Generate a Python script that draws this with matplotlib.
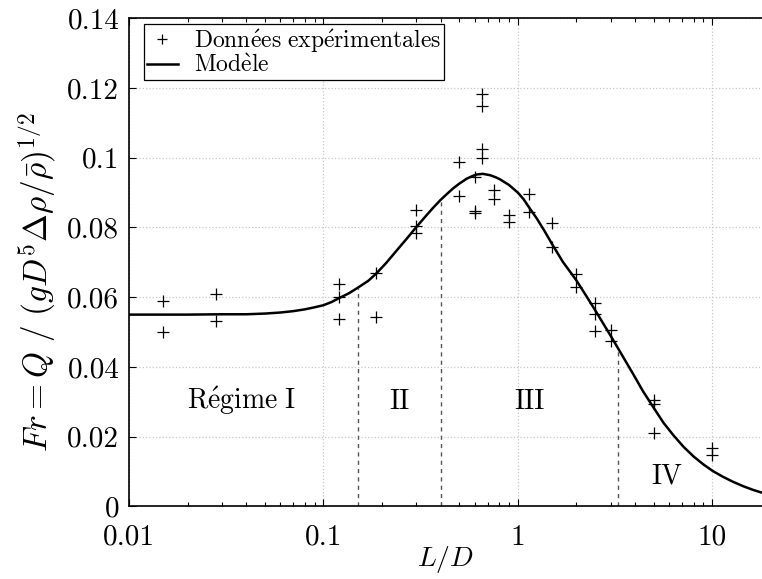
import matplotlib
matplotlib.use("Agg")
import matplotlib.pyplot as plt
from matplotlib.ticker import FixedLocator, FixedFormatter, LogLocator, NullFormatter

plt.rcParams["font.family"] = "serif"
plt.rcParams["font.serif"] = ["cmr10"]
plt.rcParams["mathtext.fontset"] = "cm"
plt.rcParams["axes.formatter.use_mathtext"] = True

# experimental points (L/D, Fr)
exp_x = [0.015, 0.015, 0.028, 0.028, 0.12, 0.12, 0.12, 0.186, 0.186,
         0.3, 0.3, 0.3, 0.5, 0.5, 0.6, 0.6, 0.6,
         0.655, 0.655, 0.655, 0.655, 0.75, 0.75, 0.9, 0.9,
         1.14, 1.14, 1.5, 1.5, 2.0, 2.0, 2.5, 2.5, 2.5,
         3.0, 3.0, 5.0, 5.0, 5.0, 10.0, 10.0]
exp_y = [0.0589, 0.0499, 0.0610, 0.0531, 0.0637, 0.0601, 0.0537, 0.0669, 0.0544,
         0.0849, 0.0803, 0.0784, 0.0988, 0.0889, 0.0944, 0.0846, 0.0843,
         0.1183, 0.1148, 0.1026, 0.1000, 0.0908, 0.0882, 0.0837, 0.0817,
         0.0897, 0.0844, 0.0814, 0.0745, 0.0666, 0.0629, 0.0583, 0.0553, 0.0503,
         0.0507, 0.0474, 0.0305, 0.0293, 0.0209, 0.0168, 0.0147]

# model curve
model_x = [0.01, 0.02, 0.03, 0.04, 0.05, 0.06, 0.07, 0.08, 0.09, 0.1,
           0.11, 0.12, 0.135, 0.15, 0.17, 0.187, 0.21, 0.238, 0.27, 0.3,
           0.335, 0.367, 0.4, 0.435, 0.466, 0.5, 0.545, 0.58, 0.613, 0.66,
           0.72, 0.77, 0.81, 0.9, 1.0, 1.07, 1.14, 1.25, 1.37, 1.5,
           1.7, 2.0, 2.25, 2.5, 2.75, 3.0, 3.26, 3.6, 3.9, 4.4,
           5.0, 5.6, 6.3, 7.1, 8.0, 9.0, 10.0, 11.3, 12.8, 14.5,
           16.2, 18.0]
model_y = [0.0550, 0.0550, 0.0551, 0.0551, 0.0553, 0.0556, 0.0560, 0.0565, 0.0571, 0.0577,
           0.0586, 0.0597, 0.0611, 0.0627, 0.0647, 0.0668, 0.0698, 0.0734, 0.0770, 0.0801,
           0.0832, 0.0857, 0.0879, 0.0898, 0.0913, 0.0926, 0.0940, 0.0947, 0.0952, 0.0954,
           0.0950, 0.0944, 0.0938, 0.0922, 0.0900, 0.0881, 0.0858, 0.0826, 0.0790, 0.0752,
           0.0702, 0.0648, 0.0603, 0.0562, 0.0524, 0.0489, 0.0455, 0.0414, 0.0381, 0.0330,
           0.0282, 0.0240, 0.0204, 0.0171, 0.0143, 0.0120, 0.0102, 0.0085, 0.0070, 0.0057,
           0.0047, 0.0039]

# regime boundaries
bounds_x = [0.15, 0.4, 3.26]
bounds_y = [0.0627, 0.0879, 0.0455]

regime_labels = [r"$\mathrm{R\acute{e}gime\ I}$", "II", "III", "IV"]
regime_x = [0.0381, 0.247, 1.15, 5.81]
regime_y = [0.0279, 0.0279, 0.0279, 0.0066]

xtick_vals = [0.01, 0.1, 1, 10]
xtick_labels = ["0.01", "0.1", "1", "10"]
ytick_vals = [0, 0.02, 0.04, 0.06, 0.08, 0.1, 0.12, 0.14]
ytick_labels = ["0", "0.02", "0.04", "0.06", "0.08", "0.1", "0.12", "0.14"]

fig = plt.figure(figsize=(7.62, 5.79), dpi=100)
ax = fig.add_axes([0.1693, 0.1256, 0.8307, 0.8426])

ax.set_xscale("log")
ax.set_xlim(0.01, 18)
ax.set_ylim(0, 0.14)

ax.grid(True, which="major", color="#c8c8c8", linestyle=":", linewidth=0.9)
ax.set_axisbelow(True)

for bx, by in zip(bounds_x, bounds_y):
    ax.plot([bx, bx], [0, by], color="#555555", linestyle=(0, (3, 3)), linewidth=1.0)

ax.plot(exp_x, exp_y, linestyle="none", marker="+", markersize=8, markeredgewidth=0.9,
        color="black", label=r"$\mathrm{Donn\acute{e}es\ exp\acute{e}rimentales}$")
ax.plot(model_x, model_y, color="black", linewidth=1.8, label=r"$\mathrm{Mod\grave{e}le}$")

for lab, tx, ty in zip(regime_labels, regime_x, regime_y):
    ax.text(tx, ty, lab, fontsize=20, ha="center", va="baseline")

ax.xaxis.set_major_locator(FixedLocator(xtick_vals))
ax.xaxis.set_major_formatter(FixedFormatter(xtick_labels))
ax.xaxis.set_minor_locator(LogLocator(base=10, subs=range(2, 10)))
ax.xaxis.set_minor_formatter(NullFormatter())
ax.yaxis.set_major_locator(FixedLocator(ytick_vals))
ax.yaxis.set_major_formatter(FixedFormatter(ytick_labels))

ax.tick_params(which="both", direction="in", top=True, right=False)
ax.tick_params(which="major", length=5, width=0.8, labelsize=21)
ax.tick_params(which="minor", length=3, width=0.8)
ax.tick_params(axis="x", which="major", pad=13)
ax.tick_params(axis="y", which="major", pad=7)
ax.spines["right"].set_visible(False)
for s in ["left", "bottom", "top"]:
    ax.spines[s].set_linewidth(1.2)

ax.set_xlabel(r"$L/D$", fontsize=20)
ax.xaxis.set_label_coords(0.5, -0.077)
ax.set_ylabel(r"$Fr = Q\ /\ (gD^5\Delta\rho/\bar{\rho})^{1/2}$", fontsize=24)
ax.yaxis.set_label_coords(-0.112, 0.46)

leg = ax.legend(loc="upper left", bbox_to_anchor=(0.0237, 0.988), borderaxespad=0,
                fontsize=17, frameon=True, fancybox=False, framealpha=1,
                edgecolor="black", handlelength=1.3, handletextpad=0.7,
                borderpad=0.12, labelspacing=0.0, markerscale=0.85)
leg.get_frame().set_linewidth(0.9)

plt.savefig("out.png", dpi=100)
plt.close()
